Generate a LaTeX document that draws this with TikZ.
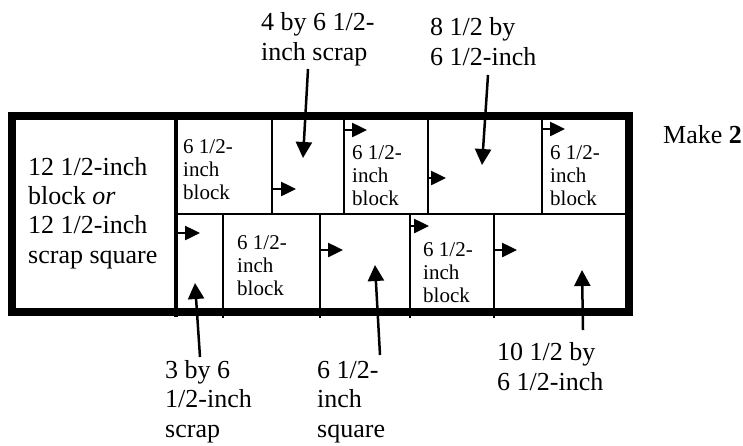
\documentclass[tikz,border=0pt]{standalone}
\usepackage{fontspec}
\setmainfont{Liberation Serif}
\usetikzlibrary{arrows.meta}
\begin{document}
\begin{tikzpicture}[x=1pt,y=-1pt,
  frame/.style={line width=8pt},
  divider/.style={line width=4pt},
  cut/.style={line width=2pt},
  biglbl/.style={anchor=base west,inner sep=0pt,align=left,font=\fontsize{26}{29.3}\selectfont},
  blk/.style={anchor=base west,inner sep=0pt,align=left,font=\fontsize{21}{22.8}\selectfont},
  pointer/.style={line width=2.5pt,-{Triangle[width=16pt,length=16pt]}},
  grain/.style={line width=2.5pt,-{Triangle[width=14pt,length=15pt]}}]
\useasboundingbox (0,0) rectangle (743,445);
% frame and cuts
\draw[frame] (11.5,115.5) rectangle (628.5,312);
\draw[divider] (175.5,115) -- (175.5,317);
\draw[cut] (175,214) -- (628,214);
\foreach \x in {272,344,428,542} \draw[cut] (\x,115) -- (\x,214);
\foreach \x in {223,320,410,494} \draw[cut] (\x,214) -- (\x,318);
% texts (anchored at the baseline of the last line)
\node[biglbl] (big) at (28,263) {12 1/2-inch\\block \textit{or}\\12 1/2-inch\\scrap square};
\node[blk] (b1) at (183,199) {6 1/2-\\inch\\block};
\node[blk] (b2) at (352,205) {6 1/2-\\inch\\block};
\node[blk] (b3) at (550,205) {6 1/2-\\inch\\block};
\node[blk] (b4) at (237,295) {6 1/2-\\inch\\block};
\node[blk] (b5) at (423,302) {6 1/2-\\inch\\block};
\node[biglbl] (make) at (663,143) {Make \textbf{2}};
\node[biglbl] (l1) at (261,60) {4 by 6 1/2-\\inch scrap};
\node[biglbl] (l2) at (430,65) {8 1/2 by\\6 1/2-inch};
\node[biglbl] (l3) at (165,437) {3 by 6\\1/2-inch\\scrap};
\node[biglbl] (l4) at (317,437) {6 1/2-\\inch\\square};
\node[biglbl] (l5) at (497,390) {10 1/2 by\\6 1/2-inch};
% long pointers
\coordinate (s1) at (308,69);  \coordinate (e1) at (303,158);
\coordinate (s2) at (488,75);  \coordinate (e2) at (482,165);
\coordinate (s3) at (200,357); \coordinate (e3) at (195,283);
\coordinate (s4) at (380,355); \coordinate (e4) at (375,265);
\coordinate (s5) at (583,330); \coordinate (e5) at (582,270);
\foreach \i in {1,...,5} \draw[pointer] (s\i) -- (e\i);
% grain arrows
\coordinate (g1a) at (272,189); \coordinate (g1b) at (296,189);
\coordinate (g2a) at (344,130); \coordinate (g2b) at (367,130);
\coordinate (g3a) at (428,178); \coordinate (g3b) at (446,178);
\coordinate (g4a) at (542,129); \coordinate (g4b) at (565,129);
\coordinate (g5a) at (178,233); \coordinate (g5b) at (200,233);
\coordinate (g6a) at (320,250); \coordinate (g6b) at (343,250);
\coordinate (g7a) at (410,226); \coordinate (g7b) at (429,226);
\coordinate (g8a) at (494,250); \coordinate (g8b) at (517,250);
\foreach \i in {1,...,8} \draw[grain] (g\i a) -- (g\i b);
\end{tikzpicture}
\end{document}
